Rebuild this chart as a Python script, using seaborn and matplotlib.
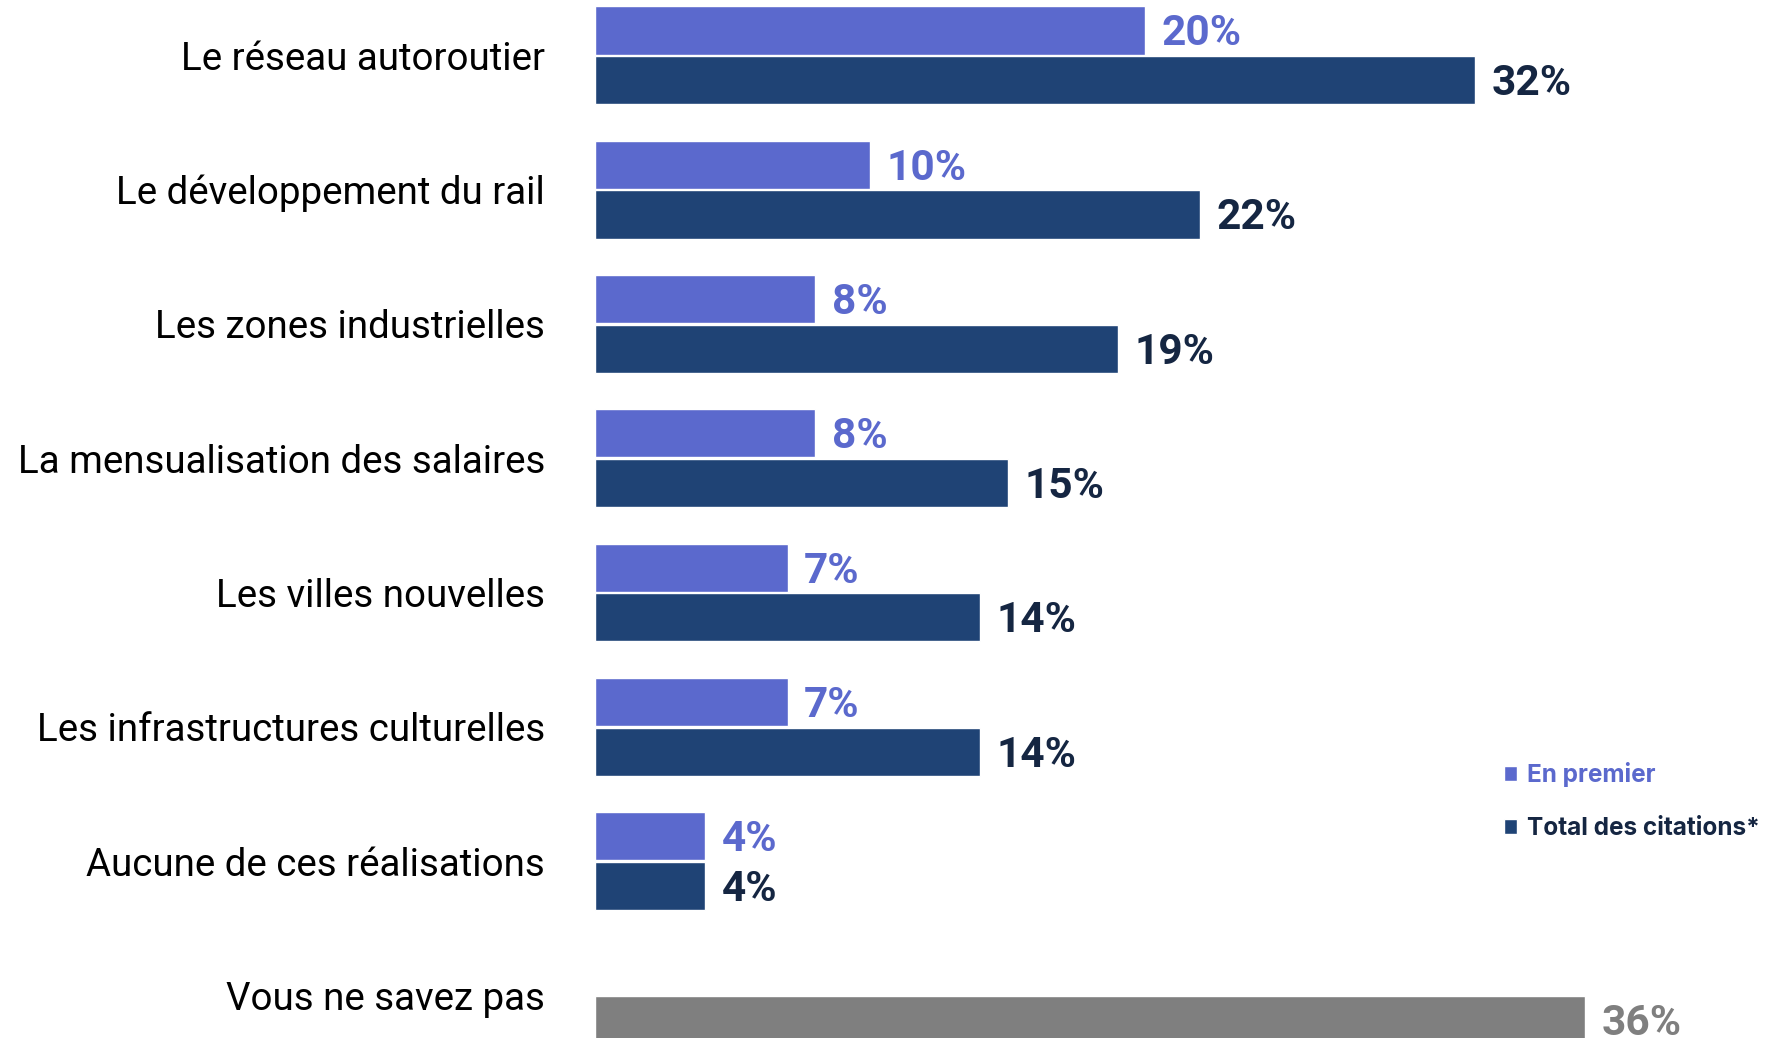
import pandas as pd
import matplotlib
matplotlib.use("Agg")
import matplotlib.pyplot as plt
from matplotlib.patches import Patch
import seaborn as sns

# Data
categories = [
    "Le réseau autoroutier",
    "Le développement du rail",
    "Les zones industrielles",
    "La mensualisation des salaires",
    "Les villes nouvelles",
    "Les infrastructures culturelles",
    "Aucune de ces réalisations",
    "Vous ne savez pas",
]
en_premier = [20, 10, 8, 8, 7, 7, 4, None]
total_citations = [32, 22, 19, 15, 14, 14, 4, 36]
series_names = ["En premier", "Total des citations*"]

LIGHT = "#5B69CD"
DARK = "#1F4375"
DARK_TXT = "#152642"
GREY = "#7F7F7F"

rows = []
for cat, a, b in zip(categories, en_premier, total_citations):
    if a is not None:
        rows.append((cat, series_names[0], a))
    rows.append((cat, series_names[1], b))
df = pd.DataFrame(rows, columns=["categorie", "serie", "valeur"])

sns.set_style("white")
plt.rcParams["font.family"] = ["Roboto", "DejaVu Sans"]

fig = plt.figure(figsize=(17.7, 10.38), dpi=100)
ax = fig.add_axes([595 / 1770, 0, 1 - 595 / 1770, 1])

sns.barplot(data=df, y="categorie", x="valeur", hue="serie",
            order=categories, hue_order=series_names,
            palette=[LIGHT, DARK], saturation=1, orient="h", width=0.74, gap=0.03,
            errorbar=None, legend=False, ax=ax)

ax.set_xlim(0, 1175 / 27.5)
ax.set_ylim(7.317, -0.412)
ax.set_xlabel("")
ax.set_ylabel("")
ax.set_xticks([])
sns.despine(ax=ax, left=True, bottom=True)
ax.tick_params(axis="y", length=0, pad=36, labelsize=27.7, labelcolor="black")

for container, txt_color in zip(ax.containers, [LIGHT, DARK_TXT]):
    for bar in container:
        w = bar.get_width()
        if not w == w or w == 0:
            continue
        yc = bar.get_y() + bar.get_height() / 2
        color = txt_color
        if abs(yc - 7) < 0.5:
            bar.set_facecolor(GREY)
            color = GREY
        ax.annotate(f"{w:.0f}%", (w, yc), xytext=(12, -2.5), textcoords="offset points",
                    va="center", ha="left", fontsize=30.5, fontweight="bold",
                    color=color)

handles = [Patch(facecolor=LIGHT), Patch(facecolor=DARK)]
fig.legend(handles, series_names, loc="upper left",
           bbox_to_anchor=(1504 / 1770, 1 - 762 / 1038), frameon=False,
           handlelength=0.55, handleheight=0.55, handletextpad=0.4,
           labelspacing=1.25, borderpad=0, borderaxespad=0,
           labelcolor=[LIGHT, DARK_TXT],
           prop={"size": 17.5, "weight": "bold", "family": ["Inter", "DejaVu Sans"]})

fig.savefig("out.png", dpi=100)
